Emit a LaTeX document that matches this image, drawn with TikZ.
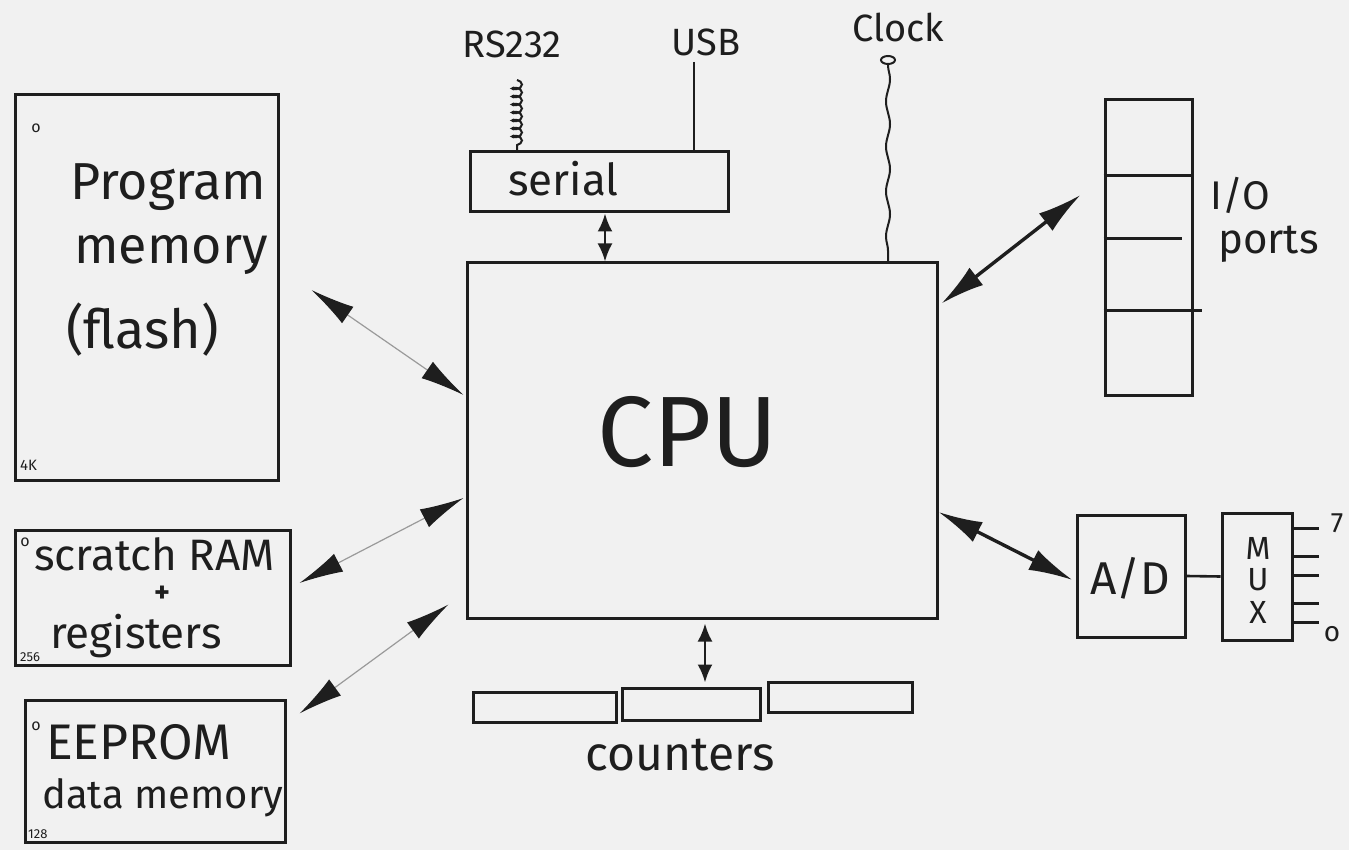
\documentclass[tikz,border=0pt]{standalone}
\usepackage{fontspec}
\setmainfont{Fira Sans}
\usetikzlibrary{arrows.meta,decorations.pathmorphing,calc,shapes.geometric}
\definecolor{ink}{HTML}{1E1E1E}
\definecolor{paper}{HTML}{F1F1F1}

\begin{document}
\begin{tikzpicture}[x=1pt,y=-1pt,
  box/.style={draw=ink, line width=3pt, inner sep=0pt, minimum width=#1},
  lbl/.style={text=ink, inner sep=0pt, font=\fontsize{#1}{#1}\selectfont},
  wire/.style={draw=ink, line width=2pt},
  thinbus/.style={draw=ink!45, line width=1.2pt,
    {Latex[length=44pt,width=20pt,color=ink]}-{Latex[length=44pt,width=20pt,color=ink]}},
  thickbus/.style={draw=ink, line width=3.4pt,
    {Latex[length=44pt,width=22pt]}-{Latex[length=44pt,width=22pt]}},
  shortbus/.style={draw=ink, line width=2.6pt,
    {Latex[length=18pt,width=15pt]}-{Latex[length=18pt,width=15pt]}},
]
% page
\fill[paper] (0,0) rectangle (1349,850);
\useasboundingbox (0,0) rectangle (1349,850);

% ---------- blocks ----------
\node[box=263pt, minimum height=385pt] (pm)     at (146.5,287.5) {};
\node[box=470pt, minimum height=355pt] (cpu)    at (702,440.5) {};
\node[box=258pt, minimum height=60pt]  (serial) at (599,182) {};
\node[box=87pt,  minimum height=295pt] (io)     at (1148.5,247.5) {};
\node[box=108pt, minimum height=122pt] (ad)     at (1131,576) {};
\node[box=70pt,  minimum height=127pt] (mux)    at (1257,576.5) {};
\node[box=275pt, minimum height=135pt] (ram)    at (152.5,597.5) {};
\node[box=260pt, minimum height=142pt] (ee)     at (155,771) {};
\node[box=143pt, minimum height=30pt]  (c1)     at (544.5,707) {};
\node[box=138pt, minimum height=32pt]  (c2)     at (691,704) {};
\node[box=144pt, minimum height=30pt]  (c3)     at (840,697) {};

% I/O port dividers
\draw[wire, line width=2.6pt] ($(io.north west)+(0,77)$)  -- ($(io.north east)+(0,77)$);
\draw[wire, line width=2.6pt] ($(io.north west)+(0,140)$) -- ($(io.north east)+(-12,140)$);
\draw[wire, line width=2.6pt] ($(io.north west)+(0,212)$) -- ($(io.north east)+(8,212)$);

% ---------- texts ----------
\node[lbl=52pt, anchor=base west] (t1) at (70,200) {Program};
\node[lbl=52pt, anchor=base west] (t2) at (74,264) {memory};
\node[lbl=54pt, anchor=base west] (t3) at (66,348) {(flash)};
\node[lbl=16pt] (pm0) at (36,128) {o};
\node[lbl=15pt, anchor=base west] (pm4k) at (20,470) {4K};

\node[lbl=100pt, anchor=base] (tcpu) at (688,466) {CPU};

\node[lbl=44pt, anchor=base west] (tser) at (508,196) {serial};
\node[lbl=38pt, anchor=base] (trs) at (512,58) {RS232};
\node[lbl=38pt, anchor=base] (tusb) at (706,56) {USB};
\node[lbl=38pt, anchor=base] (tclk) at (898,42) {Clock};

\node[lbl=40pt, anchor=base west] (tio) at (1210,210) {I/O};
\node[lbl=42pt, anchor=base west] (tports) at (1218,254) {ports};

\node[lbl=46pt] (tad) at (1130,578) {A/D};
\node[lbl=32pt] (tm) at (1258,548) {M};
\node[lbl=32pt] (tu) at (1258,580) {U};
\node[lbl=32pt] (tx) at (1258,612) {X};
\node[lbl=28pt] (t7) at (1337,523) {7};
\node[lbl=28pt] (t0) at (1332,634) {o};

\node[lbl=16pt] (ram0) at (25,542) {o};
\node[lbl=44pt, anchor=base west] (tram) at (34,570) {scratch RAM};
\node[lbl=30pt, font=\fontsize{30pt}{30pt}\selectfont\bfseries, anchor=north] (tplus) at (162,586) {+};
\node[lbl=44pt, anchor=base west] (treg) at (50,648) {registers};
\node[lbl=13pt, anchor=base west] (ram256) at (20,661) {256};

\node[lbl=16pt] (ee0) at (36,726) {o};
\node[lbl=50pt, anchor=base west] (tee) at (46,759) {EEPROM};
\node[lbl=40pt, anchor=base west] (tdm) at (42,808) {data memory};
\node[lbl=13pt, anchor=base west] (ee128) at (28,838) {128};

\node[lbl=48pt, anchor=base] (tcnt) at (680,770) {counters};

% ---------- external lines ----------
\coordinate (rsend) at (517,80);
\draw[wire, decorate, decoration={coil, amplitude=5pt, segment length=8pt, aspect=0.5}]
  (rsend) -- (rsend |- serial.north);
\coordinate (usbend) at (694,62);
\draw[wire, line width=1.6pt] (usbend) -- (usbend |- serial.north);
\node[draw=ink, line width=2pt, ellipse, minimum width=14pt, minimum height=8pt, inner sep=0pt]
  (clkpin) at (888,60) {};
\draw[wire, decorate, decoration={snake, amplitude=2pt, segment length=45pt}]
  (clkpin.south) -- (clkpin.south |- cpu.north);

% A/D to multiplexer, multiplexer inputs
\draw[wire, line width=2.6pt] (ad.east) -- (mux.west);
\foreach \dy in {17,45,64,92,111}
  \draw[wire, line width=2.6pt] ($(mux.north east)+(0,\dy)$) -- ++(25,0);

% ---------- buses ----------
\draw[thinbus]  ($(pm.east)+(32,2.5)$)       -- ($(cpu.west)+(-2,-45.5)$);
\draw[thinbus]  ($(ram.east)+(8,-14.5)$)     -- ($(cpu.west)+(-2,57.5)$);
\draw[thinbus]  ($(ee.north east)+(13,15)$)  -- ($(cpu.south west)+(-17,-15)$);
\draw[shortbus] ($(serial.south)+(6,0)$)     -- ($(cpu.north)+(-97,0)$);
\draw[thickbus] ($(cpu.north east)+(3,42)$)  -- ($(io.west)+(-23,-52.5)$);
\draw[thickbus] ($(cpu.east)+(0,71.5)$)      -- ($(ad.west)+(-3,4)$);
\draw[shortbus] ($(cpu.south)+(3,4)$)        -- ($(c2.north)+(14,-4)$);
\end{tikzpicture}
\end{document}
